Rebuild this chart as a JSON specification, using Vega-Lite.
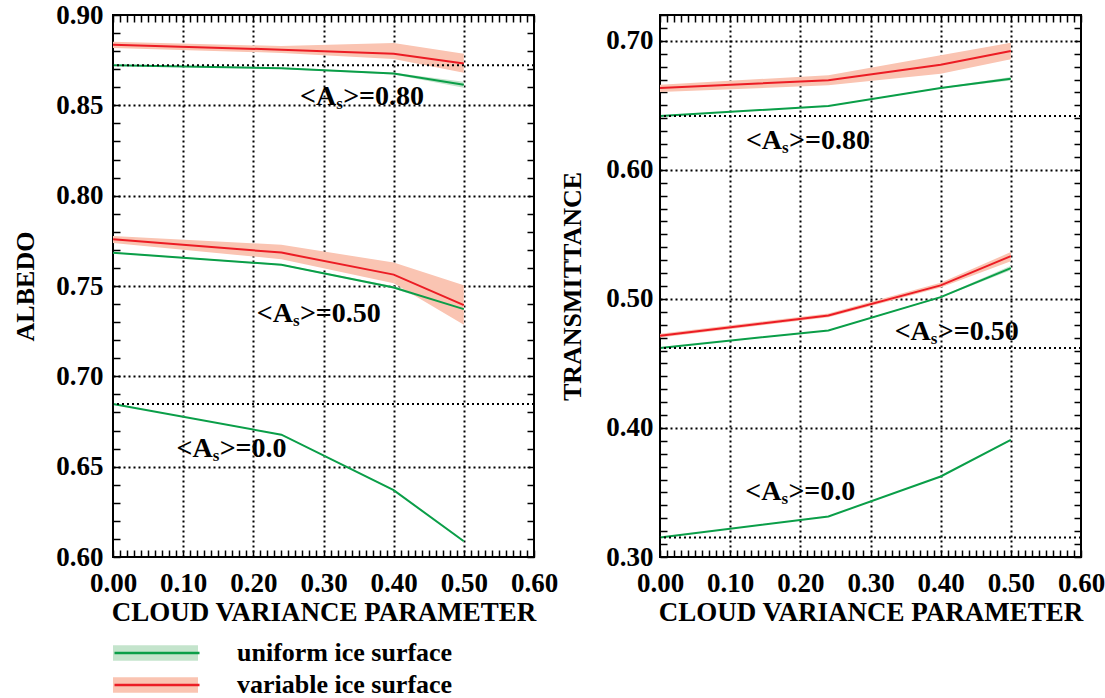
{
  "$schema": "https://vega.github.io/schema/vega-lite/v6.json",
  "autosize": {"type": "pad"},
  "padding": {"left": 11, "top": 0, "right": 5, "bottom": 0},
  "background": "white",
  "spacing": 126,
  "bounds": "flush",
  "datasets": {
    "albedo": [
      {"group": "0.80", "surface": "uniform ice surface", "x": 0, "y": 0.8722, "lo": 0.8719, "hi": 0.8725},
      {"group": "0.80", "surface": "uniform ice surface", "x": 0.24, "y": 0.8705, "lo": 0.8701, "hi": 0.8709},
      {"group": "0.80", "surface": "uniform ice surface", "x": 0.4, "y": 0.8676, "lo": 0.8671, "hi": 0.8681},
      {"group": "0.80", "surface": "uniform ice surface", "x": 0.5, "y": 0.8614, "lo": 0.8597, "hi": 0.8631},
      {"group": "0.50", "surface": "uniform ice surface", "x": 0, "y": 0.7684, "lo": 0.7681, "hi": 0.7687},
      {"group": "0.50", "surface": "uniform ice surface", "x": 0.24, "y": 0.7618, "lo": 0.7614, "hi": 0.7622},
      {"group": "0.50", "surface": "uniform ice surface", "x": 0.4, "y": 0.7492, "lo": 0.7486, "hi": 0.7498},
      {"group": "0.50", "surface": "uniform ice surface", "x": 0.5, "y": 0.7372, "lo": 0.7357, "hi": 0.7387},
      {"group": "0.0", "surface": "uniform ice surface", "x": 0, "y": 0.6847, "lo": 0.6846, "hi": 0.6848},
      {"group": "0.0", "surface": "uniform ice surface", "x": 0.24, "y": 0.6677, "lo": 0.6675, "hi": 0.6679},
      {"group": "0.0", "surface": "uniform ice surface", "x": 0.4, "y": 0.637, "lo": 0.6367, "hi": 0.6373},
      {"group": "0.0", "surface": "uniform ice surface", "x": 0.5, "y": 0.6087, "lo": 0.6083, "hi": 0.6091},
      {"group": "0.80", "surface": "variable ice surface", "x": 0, "y": 0.8836, "lo": 0.8818, "hi": 0.8852},
      {"group": "0.80", "surface": "variable ice surface", "x": 0.24, "y": 0.8808, "lo": 0.879, "hi": 0.8828},
      {"group": "0.80", "surface": "variable ice surface", "x": 0.4, "y": 0.8786, "lo": 0.8756, "hi": 0.8845},
      {"group": "0.80", "surface": "variable ice surface", "x": 0.5, "y": 0.8731, "lo": 0.8681, "hi": 0.8786},
      {"group": "0.50", "surface": "variable ice surface", "x": 0, "y": 0.7759, "lo": 0.7738, "hi": 0.7777},
      {"group": "0.50", "surface": "variable ice surface", "x": 0.24, "y": 0.7685, "lo": 0.7648, "hi": 0.7728},
      {"group": "0.50", "surface": "variable ice surface", "x": 0.4, "y": 0.7563, "lo": 0.7515, "hi": 0.763},
      {"group": "0.50", "surface": "variable ice surface", "x": 0.5, "y": 0.7394, "lo": 0.7286, "hi": 0.7504}
    ],
    "transmittance": [
      {"group": "0.80", "surface": "uniform ice surface", "x": 0, "y": 0.6417, "lo": 0.6415, "hi": 0.6419},
      {"group": "0.80", "surface": "uniform ice surface", "x": 0.24, "y": 0.6495, "lo": 0.6492, "hi": 0.6498},
      {"group": "0.80", "surface": "uniform ice surface", "x": 0.4, "y": 0.6634, "lo": 0.663, "hi": 0.6638},
      {"group": "0.80", "surface": "uniform ice surface", "x": 0.5, "y": 0.6706, "lo": 0.6692, "hi": 0.672},
      {"group": "0.50", "surface": "uniform ice surface", "x": 0, "y": 0.462, "lo": 0.4618, "hi": 0.4622},
      {"group": "0.50", "surface": "uniform ice surface", "x": 0.24, "y": 0.4756, "lo": 0.4753, "hi": 0.4759},
      {"group": "0.50", "surface": "uniform ice surface", "x": 0.4, "y": 0.5014, "lo": 0.5009, "hi": 0.5019},
      {"group": "0.50", "surface": "uniform ice surface", "x": 0.5, "y": 0.5239, "lo": 0.5222, "hi": 0.5256},
      {"group": "0.0", "surface": "uniform ice surface", "x": 0, "y": 0.3152, "lo": 0.3151, "hi": 0.3153},
      {"group": "0.0", "surface": "uniform ice surface", "x": 0.24, "y": 0.3314, "lo": 0.3312, "hi": 0.3316},
      {"group": "0.0", "surface": "uniform ice surface", "x": 0.4, "y": 0.3624, "lo": 0.3621, "hi": 0.3627},
      {"group": "0.0", "surface": "uniform ice surface", "x": 0.5, "y": 0.3908, "lo": 0.3904, "hi": 0.3912},
      {"group": "0.80", "surface": "variable ice surface", "x": 0, "y": 0.6634, "lo": 0.6603, "hi": 0.666},
      {"group": "0.80", "surface": "variable ice surface", "x": 0.24, "y": 0.6694, "lo": 0.6655, "hi": 0.6733},
      {"group": "0.80", "surface": "variable ice surface", "x": 0.4, "y": 0.6815, "lo": 0.6745, "hi": 0.6888},
      {"group": "0.80", "surface": "variable ice surface", "x": 0.5, "y": 0.6921, "lo": 0.6857, "hi": 0.6985},
      {"group": "0.50", "surface": "variable ice surface", "x": 0, "y": 0.4715, "lo": 0.47, "hi": 0.473},
      {"group": "0.50", "surface": "variable ice surface", "x": 0.24, "y": 0.4872, "lo": 0.4858, "hi": 0.4886},
      {"group": "0.50", "surface": "variable ice surface", "x": 0.4, "y": 0.5105, "lo": 0.5088, "hi": 0.5125},
      {"group": "0.50", "surface": "variable ice surface", "x": 0.5, "y": 0.5332, "lo": 0.5291, "hi": 0.5363}
    ],
    "notes_a": [
      {"x": 0.318, "y": 0.8502, "pre": "<A", "sub": "s", "post": ">=0.80"},
      {"x": 0.2564, "y": 0.7301, "pre": "<A", "sub": "s", "post": ">=0.50"},
      {"x": 0.142, "y": 0.6554, "pre": "<A", "sub": "s", "post": ">=0.0"}
    ],
    "notes_b": [
      {"x": 0.174, "y": 0.6164, "pre": "<A", "sub": "s", "post": ">=0.80"},
      {"x": 0.386, "y": 0.468, "pre": "<A", "sub": "s", "post": ">=0.50"},
      {"x": 0.173, "y": 0.3438, "pre": "<A", "sub": "s", "post": ">=0.0"}
    ],
    "refs_a": [{"y": 0.8722}, {"y": 0.6847}],
    "refs_b": [{"y": 0.6417}, {"y": 0.462}, {"y": 0.3152}]
  },
  "hconcat": [
    {
      "width": 421,
      "height": 542,
      "layer": [
        {
          "data": {"name": "albedo"},
          "mark": {"type": "area", "opacity": 1},
          "encoding": {
            "x": {"field": "x", "type": "quantitative",
              "scale": {"domain": [0, 0.6], "nice": false, "zero": false},
              "axis": {"orient": "bottom", "title": "CLOUD VARIANCE PARAMETER",
                "values": [0,0.01,0.02,0.03,0.04,0.05,0.06,0.07,0.08,0.09,0.1,0.11,0.12,0.13,0.14,0.15,0.16,0.17,0.18,0.19,0.2,0.21,0.22,0.23,0.24,0.25,0.26,0.27,0.28,0.29,0.3,0.31,0.32,0.33,0.34,0.35,0.36,0.37,0.38,0.39,0.4,0.41,0.42,0.43,0.44,0.45,0.46,0.47,0.48,0.49,0.5,0.51,0.52,0.53,0.54,0.55,0.56,0.57,0.58,0.59,0.6],
                "labelExpr": "abs(datum.value*10 - round(datum.value*10)) < 0.001 ? format(datum.value, '.2f') : ''",
                "grid": true,
                "gridOpacity": {"condition": {"test": "abs(datum.value*10 - round(datum.value*10)) < 0.001 && datum.value > 0.05 && datum.value < 0.55", "value": 1}, "value": 0},
                "labelPadding": 20, "titlePadding": 3}},
            "y": {"field": "lo", "type": "quantitative",
              "scale": {"domain": [0.6, 0.9], "nice": false, "zero": false},
              "axis": {"orient": "left", "title": "ALBEDO",
                "values": [0.6,0.61,0.62,0.63,0.64,0.65,0.66,0.67,0.68,0.69,0.7,0.71,0.72,0.73,0.74,0.75,0.76,0.77,0.78,0.79,0.8,0.81,0.82,0.83,0.84,0.85,0.86,0.87,0.88,0.89,0.9],
                "labelExpr": "abs(datum.value*20 - round(datum.value*20)) < 0.001 ? format(datum.value, '.2f') : ''",
                "grid": true,
                "gridOpacity": {"condition": {"test": "abs(datum.value*20 - round(datum.value*20)) < 0.001 && datum.value > 0.62 && datum.value < 0.88", "value": 1}, "value": 0},
                "labelPadding": 17, "titlePadding": 17}},
            "y2": {"field": "hi"},
            "fill": {"field": "surface", "type": "nominal",
              "scale": {"domain": ["uniform ice surface", "variable ice surface"], "range": ["#c4e4cc", "#fac4b2"]},
              "legend": {"orient": "none", "legendX": 0, "legendY": 623, "title": null, "padding": 0,
                "symbolType": "M-1,-0.18L1,-0.18L1,0.18L-1,0.18Z", "symbolSize": 7225, "symbolStrokeWidth": 0, "symbolOpacity": 1,
                "clipHeight": 30, "rowPadding": 2, "labelOffset": 36, "labelExpr": "''",
                "labelFont": "Liberation Serif", "labelFontSize": 26, "labelFontWeight": "bold"}},
            "detail": {"field": "group"}
          }
        },
        {
          "data": {"name": "albedo"},
          "mark": {"type": "line", "strokeWidth": 2},
          "encoding": {
            "x": {"field": "x", "type": "quantitative",
              "axis": {"orient": "top", "title": null, "labels": false, "grid": false,
                "values": [0,0.01,0.02,0.03,0.04,0.05,0.06,0.07,0.08,0.09,0.1,0.11,0.12,0.13,0.14,0.15,0.16,0.17,0.18,0.19,0.2,0.21,0.22,0.23,0.24,0.25,0.26,0.27,0.28,0.29,0.3,0.31,0.32,0.33,0.34,0.35,0.36,0.37,0.38,0.39,0.4,0.41,0.42,0.43,0.44,0.45,0.46,0.47,0.48,0.49,0.5,0.51,0.52,0.53,0.54,0.55,0.56,0.57,0.58,0.59,0.6]}},
            "y": {"field": "y", "type": "quantitative",
              "axis": {"orient": "right", "title": null, "labels": false, "grid": false,
                "values": [0.6,0.61,0.62,0.63,0.64,0.65,0.66,0.67,0.68,0.69,0.7,0.71,0.72,0.73,0.74,0.75,0.76,0.77,0.78,0.79,0.8,0.81,0.82,0.83,0.84,0.85,0.86,0.87,0.88,0.89,0.9]}},
            "stroke": {"field": "surface", "type": "nominal",
              "scale": {"range": ["#0a9e48", "#ec1c24"]},
              "legend": {"orient": "none", "legendX": 0, "legendY": 623, "title": null, "padding": 0,
                "symbolType": "stroke", "symbolSize": 7225, "symbolStrokeWidth": 2.5,
                "clipHeight": 30, "rowPadding": 2, "labelOffset": 36, "labelLimit": 500,
                "labelFont": "Liberation Serif", "labelFontSize": 26, "labelFontWeight": "bold", "labelColor": "black"}},
            "detail": {"field": "group"}
          }
        },
        {
          "data": {"name": "refs_a"},
          "mark": {"type": "rule", "color": "black", "strokeWidth": 2, "strokeDash": [2, 3]},
          "encoding": {"y": {"field": "y", "type": "quantitative", "axis": null}}
        },
        {
          "data": {"name": "notes_a"},
          "mark": {"type": "text", "align": "right", "baseline": "alphabetic", "font": "Liberation Serif", "fontWeight": "bold", "fontSize": 28, "color": "black"},
          "encoding": {"x": {"field": "x", "type": "quantitative", "axis": null}, "y": {"field": "y", "type": "quantitative", "axis": null}, "text": {"field": "pre"}}
        },
        {
          "data": {"name": "notes_a"},
          "mark": {"type": "text", "align": "left", "baseline": "alphabetic", "font": "Liberation Serif", "fontWeight": "bold", "fontSize": 17, "dy": 4, "dx": 0, "color": "black"},
          "encoding": {"x": {"field": "x", "type": "quantitative", "axis": null}, "y": {"field": "y", "type": "quantitative", "axis": null}, "text": {"field": "sub"}}
        },
        {
          "data": {"name": "notes_a"},
          "mark": {"type": "text", "align": "left", "baseline": "alphabetic", "font": "Liberation Serif", "fontWeight": "bold", "fontSize": 28, "dx": 7, "color": "black"},
          "encoding": {"x": {"field": "x", "type": "quantitative", "axis": null}, "y": {"field": "y", "type": "quantitative", "axis": null}, "text": {"field": "post"}}
        },
        {
          "mark": {"type": "text", "text": "a", "align": "center", "baseline": "alphabetic", "font": "Liberation Serif", "fontWeight": "bold", "fontSize": 36, "color": "black"},
          "encoding": {"x": {"datum": 0.566, "type": "quantitative", "axis": null}, "y": {"datum": 0.6095, "type": "quantitative", "axis": null}}
        }
      ],
      "resolve": {"axis": {"x": "independent", "y": "independent"}}
    },
    {
      "width": 421,
      "height": 542,
      "layer": [
        {
          "data": {"name": "transmittance"},
          "mark": {"type": "area", "opacity": 1},
          "encoding": {
            "x": {"field": "x", "type": "quantitative",
              "scale": {"domain": [0, 0.6], "nice": false, "zero": false},
              "axis": {"orient": "bottom", "title": "CLOUD VARIANCE PARAMETER",
                "values": [0,0.01,0.02,0.03,0.04,0.05,0.06,0.07,0.08,0.09,0.1,0.11,0.12,0.13,0.14,0.15,0.16,0.17,0.18,0.19,0.2,0.21,0.22,0.23,0.24,0.25,0.26,0.27,0.28,0.29,0.3,0.31,0.32,0.33,0.34,0.35,0.36,0.37,0.38,0.39,0.4,0.41,0.42,0.43,0.44,0.45,0.46,0.47,0.48,0.49,0.5,0.51,0.52,0.53,0.54,0.55,0.56,0.57,0.58,0.59,0.6],
                "labelExpr": "abs(datum.value*10 - round(datum.value*10)) < 0.001 ? format(datum.value, '.2f') : ''",
                "grid": true,
                "gridOpacity": {"condition": {"test": "abs(datum.value*10 - round(datum.value*10)) < 0.001 && datum.value > 0.05 && datum.value < 0.55", "value": 1}, "value": 0},
                "labelPadding": 20, "titlePadding": 3}},
            "y": {"field": "lo", "type": "quantitative",
              "scale": {"domain": [0.3, 0.72], "nice": false, "zero": false},
              "axis": {"orient": "left", "title": "TRANSMITTANCE",
                "values": [0.3,0.31,0.32,0.33,0.34,0.35,0.36,0.37,0.38,0.39,0.4,0.41,0.42,0.43,0.44,0.45,0.46,0.47,0.48,0.49,0.5,0.51,0.52,0.53,0.54,0.55,0.56,0.57,0.58,0.59,0.6,0.61,0.62,0.63,0.64,0.65,0.66,0.67,0.68,0.69,0.7,0.71,0.72],
                "labelExpr": "abs(datum.value*10 - round(datum.value*10)) < 0.001 ? format(datum.value, '.2f') : ''",
                "grid": true,
                "gridOpacity": {"condition": {"test": "abs(datum.value*10 - round(datum.value*10)) < 0.001 && datum.value > 0.32 && datum.value < 0.71", "value": 1}, "value": 0},
                "labelPadding": 14, "titlePadding": 20}},
            "y2": {"field": "hi"},
            "fill": {"field": "surface", "type": "nominal",
              "scale": {"domain": ["uniform ice surface", "variable ice surface"], "range": ["#c4e4cc", "#fac4b2"]},
              "legend": null},
            "detail": {"field": "group"}
          }
        },
        {
          "data": {"name": "transmittance"},
          "mark": {"type": "line", "strokeWidth": 2},
          "encoding": {
            "x": {"field": "x", "type": "quantitative",
              "axis": {"orient": "top", "title": null, "labels": false, "grid": false,
                "values": [0,0.01,0.02,0.03,0.04,0.05,0.06,0.07,0.08,0.09,0.1,0.11,0.12,0.13,0.14,0.15,0.16,0.17,0.18,0.19,0.2,0.21,0.22,0.23,0.24,0.25,0.26,0.27,0.28,0.29,0.3,0.31,0.32,0.33,0.34,0.35,0.36,0.37,0.38,0.39,0.4,0.41,0.42,0.43,0.44,0.45,0.46,0.47,0.48,0.49,0.5,0.51,0.52,0.53,0.54,0.55,0.56,0.57,0.58,0.59,0.6]}},
            "y": {"field": "y", "type": "quantitative",
              "axis": {"orient": "right", "title": null, "labels": false, "grid": false,
                "values": [0.3,0.31,0.32,0.33,0.34,0.35,0.36,0.37,0.38,0.39,0.4,0.41,0.42,0.43,0.44,0.45,0.46,0.47,0.48,0.49,0.5,0.51,0.52,0.53,0.54,0.55,0.56,0.57,0.58,0.59,0.6,0.61,0.62,0.63,0.64,0.65,0.66,0.67,0.68,0.69,0.7,0.71,0.72]}},
            "stroke": {"field": "surface", "type": "nominal",
              "scale": {"range": ["#0a9e48", "#ec1c24"]},
              "legend": null},
            "detail": {"field": "group"}
          }
        },
        {
          "data": {"name": "refs_b"},
          "mark": {"type": "rule", "color": "black", "strokeWidth": 2, "strokeDash": [2, 3]},
          "encoding": {"y": {"field": "y", "type": "quantitative", "axis": null}}
        },
        {
          "data": {"name": "notes_b"},
          "mark": {"type": "text", "align": "right", "baseline": "alphabetic", "font": "Liberation Serif", "fontWeight": "bold", "fontSize": 28, "color": "black"},
          "encoding": {"x": {"field": "x", "type": "quantitative", "axis": null}, "y": {"field": "y", "type": "quantitative", "axis": null}, "text": {"field": "pre"}}
        },
        {
          "data": {"name": "notes_b"},
          "mark": {"type": "text", "align": "left", "baseline": "alphabetic", "font": "Liberation Serif", "fontWeight": "bold", "fontSize": 17, "dy": 4, "dx": 0, "color": "black"},
          "encoding": {"x": {"field": "x", "type": "quantitative", "axis": null}, "y": {"field": "y", "type": "quantitative", "axis": null}, "text": {"field": "sub"}}
        },
        {
          "data": {"name": "notes_b"},
          "mark": {"type": "text", "align": "left", "baseline": "alphabetic", "font": "Liberation Serif", "fontWeight": "bold", "fontSize": 28, "dx": 7, "color": "black"},
          "encoding": {"x": {"field": "x", "type": "quantitative", "axis": null}, "y": {"field": "y", "type": "quantitative", "axis": null}, "text": {"field": "post"}}
        },
        {
          "mark": {"type": "text", "text": "b", "align": "center", "baseline": "alphabetic", "font": "Liberation Serif", "fontWeight": "bold", "fontSize": 36, "color": "black"},
          "encoding": {"x": {"datum": 0.562, "type": "quantitative", "axis": null}, "y": {"datum": 0.313, "type": "quantitative", "axis": null}}
        }
      ],
      "resolve": {"axis": {"x": "independent", "y": "independent"}}
    }
  ],
  "resolve": {
    "scale": {"x": "independent", "y": "independent", "fill": "independent", "stroke": "independent"},
    "axis": {"x": "independent", "y": "independent"},
    "legend": {"fill": "independent", "stroke": "independent"}
  },
  "config": {
    "font": "Liberation Serif",
    "view": {"stroke": "black", "strokeWidth": 2},
    "axis": {
      "labelFont": "Liberation Serif", "labelFontSize": 27, "labelFontWeight": "bold", "labelColor": "black",
      "titleFont": "Liberation Serif", "titleFontSize": 26, "titleFontWeight": "bold", "titleColor": "black",
      "tickColor": "black", "tickWidth": 1.5, "tickSize": -7, "domain": false,
      "labelFlush": false, "labelOverlap": false,
      "gridColor": "black", "gridWidth": 2, "gridDash": [2, 3]
    },
    "axisX": {"titleFontSize": 27}
  }
}
